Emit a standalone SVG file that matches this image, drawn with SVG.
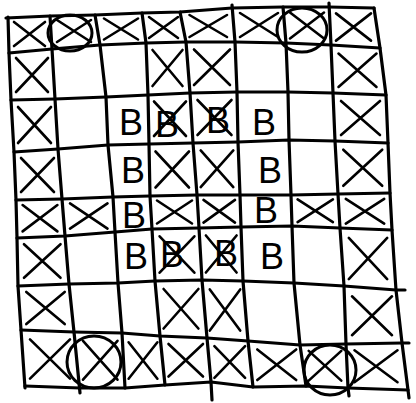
<svg xmlns="http://www.w3.org/2000/svg" width="416" height="403" viewBox="0 0 416 403">
<style>
.g{fill:none;stroke:#000;stroke-width:3.2;stroke-linecap:round;stroke-linejoin:round}
.x{fill:none;stroke:#000;stroke-width:2.6;stroke-linecap:round}
.c{fill:none;stroke:#000;stroke-width:3}
.b{font-family:"Liberation Sans","DejaVu Sans",sans-serif;font-size:36px;fill:#000;text-anchor:middle}
</style>
<rect width="416" height="403" fill="#fff"/>
<g id="grid">
<path class="g" d="M6,18 L50,16 L95,15 L142,13 L180,12 L232,8 L283,7 L329,7 L374,8"/>
<path class="g" d="M9,53 L52,49 L100,45 L146,43 L186,42 L235,42 L286,43 L331,45 L380,48"/>
<path class="g" d="M11,100 L55,99 L106,97 L148,95 L190,93 L237,92 L288,92 L333,93 L386,95"/>
<path class="g" d="M14,152 L58,149 L108,145 L149,144 L193,143 L238,142 L289,140 L335,141 L388,143"/>
<path class="g" d="M16,200 L62,199 L113,197 L150,196 L197,195 L240,195 L291,195 L338,194 L390,193"/>
<path class="g" d="M17,238 L65,236 L115,232 L152,229 L199,228 L241,227 L292,226 L340,228 L392,230"/>
<path class="g" d="M18,286 L69,284 L118,283 L155,281 L202,280 L243,281 L294,283 L344,286 L396,290 L405,290"/>
<path class="g" d="M21,330 L74,332 L122,333 L160,336 L207,338 L248,341 L300,345 L346,344 L402,343 L409,343"/>
<path class="g" d="M25,386 L80,388 L125,388 L165,385 L211,382 L253,387 L306,386 L348,388 L408,390"/>
<path class="g" d="M8,17 L9,53 L11,100 L14,152 L16,200 L17,238 L18,286 L21,330 L25,388"/>
<path class="g" d="M50,16 L52,49 L55,99 L58,149 L62,199 L65,236 L69,284 L74,332 L80,393"/>
<path class="g" d="M95,15 L100,45 L106,97 L108,145 L113,197 L115,232 L118,283 L122,333 L125,388"/>
<path class="g" d="M142,13 L146,43 L148,95 L149,144 L150,196 L152,229 L155,281 L160,336 L165,385"/>
<path class="g" d="M180,12 L186,42 L190,93 L193,143 L197,195 L199,228 L202,280 L207,338 L211,382 L212,400"/>
<path class="g" d="M232,5 L235,42 L237,92 L238,142 L240,195 L241,227 L243,281 L248,341 L253,387"/>
<path class="g" d="M283,7 L286,43 L288,92 L289,140 L291,195 L292,226 L294,283 L300,345 L306,386"/>
<path class="g" d="M329,3 L331,45 L333,93 L335,141 L338,194 L340,228 L344,286 L346,344 L348,388 L349,396"/>
<path class="g" d="M374,8 L380,48 L386,95 L388,143 L390,193 L392,230 L396,290 L402,343 L408,390 L409,398"/>
</g>
<g id="crosses">
<path class="x" d="M14,22 L45,46 M45,22 L14,46"/>
<path class="x" d="M57,20 L91,42 M91,20 L57,42"/>
<path class="x" d="M104,18.5 L138,39.5 M138,18.5 L104,39.5"/>
<path class="x" d="M149,17 L178,38 M178,17 L149,38"/>
<path class="x" d="M189.5,15 L227,37 M227,15 L189.5,37"/>
<path class="x" d="M240,13 L278,37 M278,13 L240,37"/>
<path class="x" d="M290,12.5 L324,38.5 M324,12.5 L290,38.5"/>
<path class="x" d="M336,13.4 L371,40.6 M371,13.4 L336,40.6"/>
<path class="x" d="M16,58 L48,92 M48,58 L16,92"/>
<path class="x" d="M152.5,50 L182.5,86 M182.5,50 L152.5,86"/>
<path class="x" d="M194,49.5 L230,85 M230,49.5 L194,85"/>
<path class="x" d="M338.5,53.6 L376.5,86.9 M376.5,53.6 L338.5,86.9"/>
<path class="x" d="M18,107 L51,143 M51,107 L18,143"/>
<path class="x" d="M154,101.5 L186,136 M186,101.5 L154,136"/>
<path class="x" d="M197.5,100 L231.5,135 M231.5,100 L197.5,135"/>
<path class="x" d="M341,101 L380,135 M380,101 L341,135"/>
<path class="x" d="M21,158 L54,192 M54,158 L21,192"/>
<path class="x" d="M155.5,151.5 L189,187.5 M189,151.5 L155.5,187.5"/>
<path class="x" d="M200.7,150.4 L233.3,187.1 M233.3,150.4 L200.7,187.1"/>
<path class="x" d="M343.3,149.7 L382.2,185.8 M382.2,149.7 L343.3,185.8"/>
<path class="x" d="M22.6,205 L57.4,231.4 M57.4,205 L22.6,231.4"/>
<path class="x" d="M70,203.4 L107.5,228.6 M107.5,203.4 L70,228.6"/>
<path class="x" d="M157,200.5 L192,223.5 M192,200.5 L157,223.5"/>
<path class="x" d="M203.5,199.9 L235,222.6 M235,199.9 L203.5,222.6"/>
<path class="x" d="M297.6,199.4 L332.9,222.1 M332.9,199.4 L297.6,222.1"/>
<path class="x" d="M345.8,198.9 L384.2,223.6 M384.2,198.9 L345.8,223.6"/>
<path class="x" d="M24,244.2 L60.5,277.8 M60.5,244.2 L24,277.8"/>
<path class="x" d="M159.6,236.3 L194.4,272.7 M194.4,236.3 L159.6,272.7"/>
<path class="x" d="M205.9,235.5 L236.6,272.5 M236.6,235.5 L205.9,272.5"/>
<path class="x" d="M348.8,237.9 L387.2,279.1 M387.2,237.9 L348.8,279.1"/>
<path class="x" d="M26.3,291.9 L64.7,324.1 M64.7,291.9 L26.3,324.1"/>
<path class="x" d="M163.6,289 L198.4,328.5 M198.4,289 L163.6,328.5"/>
<path class="x" d="M209.8,289.4 L240.2,330.6 M240.2,289.4 L209.8,330.6"/>
<path class="x" d="M352,296.3 L392,335.2 M392,296.3 L352,335.2"/>
<path class="x" d="M30,339.4 L70,378.6 M70,339.4 L30,378.6"/>
<path class="x" d="M83,340.8 L117.5,379.7 M117.5,340.8 L83,379.7"/>
<path class="x" d="M128.6,342.3 L157.4,378.7 M157.4,342.3 L128.6,378.7"/>
<path class="x" d="M168.5,344 L203,376.5 M203,344 L168.5,376.5"/>
<path class="x" d="M214.4,346.2 L245.1,377.8 M245.1,346.2 L214.4,377.8"/>
<path class="x" d="M257.3,349.5 L296.2,380 M296.2,349.5 L257.3,380"/>
<path class="x" d="M308.7,350.9 L341.3,380.6 M341.3,350.9 L308.7,380.6"/>
<path class="x" d="M354.5,350.3 L397.5,382.2 M397.5,350.3 L354.5,382.2"/>
</g>
<g id="circles">
<ellipse class="c" cx="70" cy="33" rx="22" ry="18"/>
<ellipse class="c" cx="302" cy="30" rx="25" ry="22"/>
<ellipse class="c" cx="94" cy="362" rx="27" ry="26"/>
<ellipse class="c" cx="330" cy="370" rx="26" ry="25"/>
</g>
<g id="letters">
<text class="b" x="131" y="135">B</text>
<text class="b" x="167" y="137">B</text>
<text class="b" x="218" y="133">B</text>
<text class="b" x="264" y="135">B</text>
<text class="b" x="133" y="183">B</text>
<text class="b" x="270" y="183">B</text>
<text class="b" x="134" y="228">B</text>
<text class="b" x="266" y="223">B</text>
<text class="b" x="136" y="269">B</text>
<text class="b" x="172" y="267">B</text>
<text class="b" x="226" y="266">B</text>
<text class="b" x="272" y="269">B</text>
</g>
</svg>
